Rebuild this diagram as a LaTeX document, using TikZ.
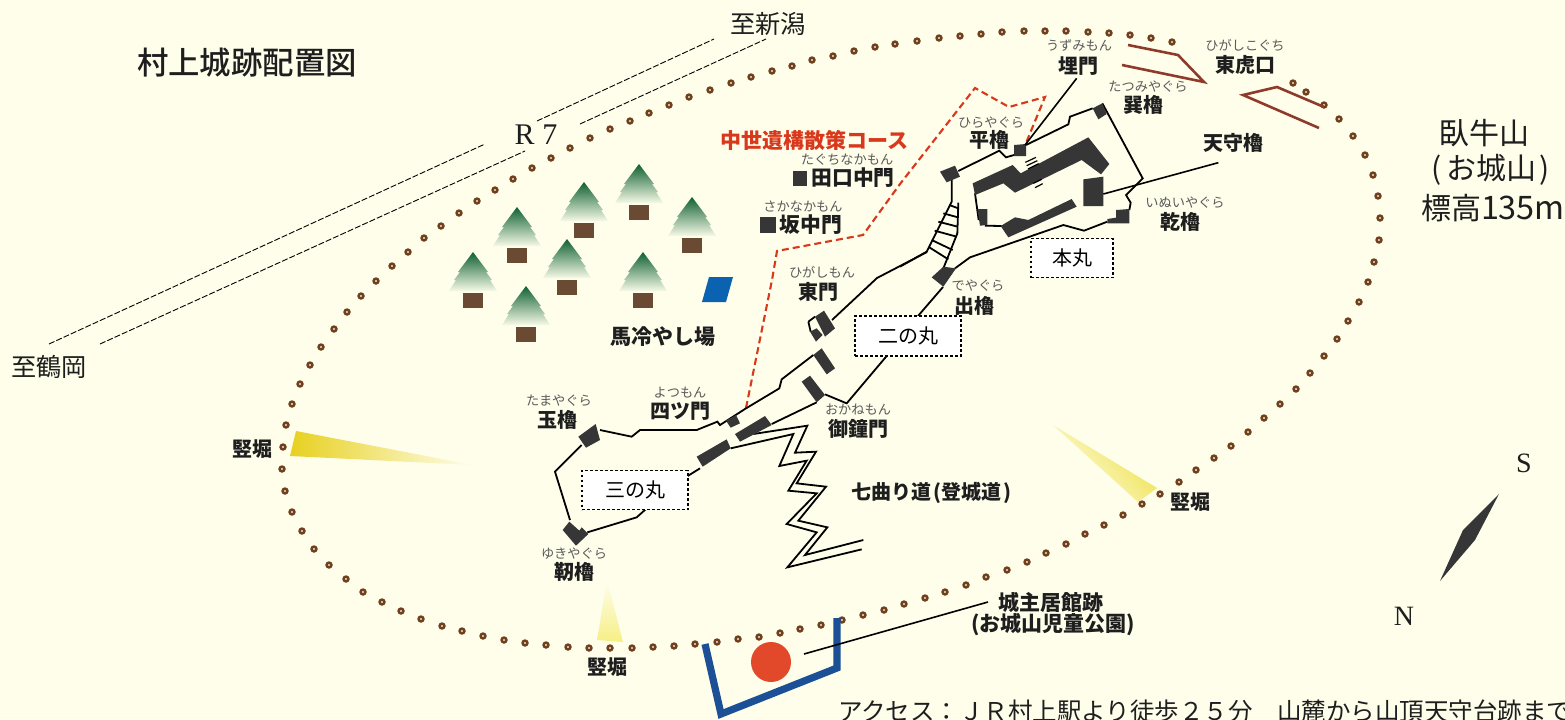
\documentclass[tikz,border=0pt]{standalone}
\usepackage{fontspec}
\setmainfont{Liberation Serif}
\newfontfamily\cjk{Noto Sans CJK JP}
\newfontfamily\cjkm{Noto Sans CJK JP Medium}
\definecolor{bg}{HTML}{FEFEEB}
\definecolor{ink}{HTML}{1E1E1E}
\definecolor{dark}{HTML}{363636}
\definecolor{furi}{HTML}{5A5A5A}
\definecolor{redc}{HTML}{D8381C}
\definecolor{sun}{HTML}{E2492B}
\definecolor{brownl}{HTML}{8E3B2C}
\definecolor{dotc}{HTML}{70401C}
\definecolor{bluea}{HTML}{0B62B0}
\definecolor{blueb}{HTML}{1B4F96}
\definecolor{trunk}{HTML}{6B4A34}
\definecolor{yel}{HTML}{E8D020}
\definecolor{yelb}{HTML}{F6EF85}
\definecolor{yelc}{HTML}{EEDF40}
\definecolor{treet}{HTML}{0F6032}
\definecolor{treem}{HTML}{5F9E78}
\definecolor{treeb}{HTML}{F6FAE6}
\tikzset{
  z1/.style={shift={(900,20)},x=0.166667pt,y=-0.166667pt},
  z2/.style={shift={(500,280)},x=0.166667pt,y=-0.166667pt},
  tx/.style={inner sep=0pt,outer sep=0pt,text=ink},
  namel/.style={tx,font=\cjk\bfseries\fontsize{10}{12}\selectfont},
  furil/.style={tx,text=furi,font=\cjk\fontsize{6.6}{8}\selectfont},
  wall/.style={draw=black,line width=0.9pt,line join=miter},
  tower/.style={fill=dark},
  boxl/.style={draw=black,fill=white,line width=0.8pt,dash pattern=on 1.4pt off 1.1pt},
  course/.style={draw=redc,line width=1.05pt,dash pattern=on 3.5pt off 2pt},
  road/.style={draw=black,line width=0.45pt,dash pattern=on 3pt off 1pt},
  hedge/.style={draw=brownl,line width=1.3pt,line join=miter},
  leader/.style={draw=black,line width=0.8pt},
}
\begin{document}
\begin{tikzpicture}[x=0.5pt,y=-0.5pt]
\fill[bg] (0,0) rectangle (1565,719);
\useasboundingbox (0,0) rectangle (1565,719);
% road
\draw[road] (49,344) -- (485,144);
\draw[road] (537,121) -- (714,39);
\draw[road] (100,344) -- (525,151);
\draw[road] (580,124) -- (766,39);
% moats
\shade[left color=yel,right color=bg] (296,431) -- (290,456) -- (473,465) -- cycle;
\shade[bottom color=yelb,top color=bg] (607,580) -- (597,640) -- (623,642) -- cycle;
\shade[left color=bg,right color=yelc,shading angle=130] (1053,425) -- (1157,488) -- (1138,502) -- cycle;
% dots
\foreach \px/\py in {
1293/83,1306/92,1324/105,1339/119,1353/136,1365/155,1373/175,1378/196,1380/218,1379/240,1374/262,1368/282,1359/302,1348/321,1337/339,1324/356,1310/373,1296/389,1280/404,1264/418,1248/432,1231/446,1214/458,1196/470,1179/482,1160/494,1142/504,1123/515,1104/525,1085/534,1066/544,1046/553,1027/562,1007/570,986/577,966/585,945/592,925/598,904/604,884/610,863/615,842/620,821/625,800/629,780/633,759/637,738/639,717/642,695/644,674/646,653/647,632/648,610/648,589/648,568/647,546/645,525/643,504/640,483/636,462/631,442/626,421/619,401/611,382/602,363/592,346/579,329/565,314/549,302/531,292/512,285/491,282/469,283/447,286/425,292/404,300/384,310/365,321/347,334/329,347/312,361/296,376/281,392/266,408/252,424/238,441/226,459/213,477/201,495/190,513/179,532/168,551/158,570/148,590/138,610/129,630/121,649/113,669/105,689/97,710/90,731/83,751/77,772/71,792/66,812/60,833/56,854/51,875/47,895/44,917/41,939/38,960/36,981/34,1002/32,1024/31,1045/31,1066/31,1088/32,1109/33,1130/35,1151/38,1172/42}
  \draw[draw=dotc,fill=bg,line width=1.25pt] (\px,\py) circle[radius=2.4];
% trees
\foreach \tx/\ty in {639/164,584/182,692/197,517/207,567/239,473/252,643/252,526/286}{
  \begin{scope}[shift={(\tx,\ty)}]
    \shade[top color=treet,middle color=treem,bottom color=treeb]
      (0,0) -- (-15,20) -- (-13,20) -- (-19,28) -- (-17,28) -- (-24,39) -- (24,39) -- (17,28) -- (19,28) -- (13,20) -- (15,20) -- cycle;
    \fill[trunk] (-10,41) rectangle (10,56);
  \end{scope}
}
\fill[bluea] (709,277) -- (733,277) -- (726,302) -- (702,302) -- cycle;
% course
\draw[course] (746,408) -- (772,280) -- (777,251) -- (863,235) -- (900,184) -- (975,88) -- (1009,107) -- (1045,97) -- (1026,143);
% hedges
\draw[hedge] (1128,45) -- (1178,55) -- (1204,82) -- (1122,65);
\draw[hedge] (1319,128) -- (1243,95) -- (1277,87) -- (1324,107);
% castle upper part
\begin{scope}[z1]
  \draw[wall] (175,453) -- (298,392) -- (318,412) -- (342,405);
  \draw[wall] (378,375) -- (505,313) -- (510,290) -- (578,265);
  \draw[wall] (607,250) -- (728,475) -- (678,525) -- (692,548) -- (688,570);
  \draw[wall] (622,605) -- (552,632) -- (490,615) -- (210,712) -- (165,745);
  \draw[wall] (225,520) -- (236,600);
  \draw[wall] (255,617) -- (305,618);
  \draw[wall] (155,480) -- (155,545) -- (80,695) -- (0,740);
  \draw[wall] (175,548) -- (172,640) -- (130,745);
  \draw[wall] (148,555) -- (175,565) (130,580) -- (174,592) (115,605) -- (173,620) (104,632) -- (170,650) (95,660) -- (158,690) (88,682) -- (145,718);
  \fill[tower] (120,455) -- (165,437) -- (180,470) -- (140,487) -- cycle;
  \fill[tower] (342,375) -- (378,372) -- (378,408) -- (342,408) -- cycle;
  \fill[tower] (578,265) -- (607,250) -- (620,282) -- (595,298) -- cycle;
  \fill[tower] (218,490) -- (338,435) -- (362,460) -- (565,352) -- (628,432) -- (603,463) -- (545,420) -- (345,518) -- (310,490) -- (225,525) -- cycle;
  \fill[tower] (550,478) -- (610,470) -- (610,558) -- (550,558) -- cycle;
  \fill[tower] (302,618) -- (345,592) -- (385,600) -- (515,537) -- (530,560) -- (325,652) -- cycle;
  \fill[tower] (232,567) -- (262,567) -- (262,615) -- (240,617) -- cycle;
  \fill[tower] (622,597) -- (648,593) -- (648,570) -- (688,567) -- (688,610) -- (622,610) -- cycle;
  \fill[tower] (95,772) -- (130,740) -- (168,745) -- (130,800) -- cycle;
  \draw[wall,line width=0.6pt] (380,437) -- (412,422) (384,447) -- (416,431) (376,427) -- (408,412);
  \draw[wall,line width=0.6pt] (400,490) -- (425,478) (405,503) -- (428,491);
  \coordinate (maiFoot) at (530,175);
  \coordinate (maiEnd) at (375,375);
  \coordinate (tenFoot) at (955,428);
  \coordinate (tenEnd) at (610,522);
\end{scope}
\draw[wall] (927,252) -- (877,278) -- (832,320);
\draw[wall] (943,287) -- (918,316);
% castle lower part
\begin{scope}[z2]
  \draw[wall] (1160,228) -- (1040,370) -- (975,343);
  \draw[wall] (940,225) -- (845,298) -- (838,325) -- (738,385) -- (660,435) -- (652,425) -- (590,450) -- (420,450) -- (395,470) -- (300,450);
  \draw[wall] (245,495) -- (165,575) -- (210,720);
  \draw[wall] (262,757) -- (410,712) -- (438,687);
  \draw[wall] (563,588) -- (600,565);
  \draw[wall] (815,432) -- (950,367);
  \draw[wall] (925,125) -- (945,110);
  \draw[wall] (925,125) -- (932,155);
  \draw[wall] (760,462) -- (922,437) -- (885,518) -- (948,515) -- (890,610) -- (978,620) -- (895,722) -- (982,742) -- (915,825) -- (1090,780);
  \draw[wall] (692,505) -- (880,462) -- (838,558) -- (920,542) -- (865,632) -- (950,640) -- (860,732) -- (950,757) -- (862,862) -- (1085,808);
  \fill[tower] (945,110) -- (972,92) -- (1005,145) -- (975,170) -- cycle;
  \fill[tower] (930,155) -- (950,145) -- (968,165) -- (948,185) -- cycle;
  \fill[tower] (940,225) -- (965,205) -- (1005,265) -- (980,283) -- cycle;
  \fill[tower] (905,305) -- (930,287) -- (975,345) -- (950,367) -- cycle;
  \fill[tower] (235,470) -- (287,432) -- (300,480) -- (258,503) -- cycle;
  \fill[tower] (188,750) -- (208,725) -- (238,752) -- (245,742) -- (265,762) -- (228,797) -- cycle;
  \fill[tower] (590,530) -- (680,478) -- (692,505) -- (608,560) -- cycle;
  \fill[tower] (705,462) -- (795,408) -- (815,435) -- (720,485) -- cycle;
  \fill[tower] (678,422) -- (708,405) -- (720,430) -- (692,443) -- cycle;
\end{scope}
% small gates
\fill[tower] (793,171) rectangle (807,186);
\fill[tower] (760,217) rectangle (776,233);
% bailey boxes
\node[boxl,minimum width=41pt,minimum height=19.5pt,inner sep=0pt,font=\cjk\fontsize{10}{12}\selectfont] (honmaru) at (1072,258) {本丸};
\node[boxl,minimum width=53pt,minimum height=20pt,inner sep=0pt,font=\cjk\fontsize{10}{12}\selectfont] (ninomaru) at (908,336) {二の丸};
\node[boxl,minimum width=53pt,minimum height=19.5pt,inner sep=0pt,font=\cjk\fontsize{10}{12}\selectfont] (sannomaru) at (635,490) {三の丸};
% residence
\draw[draw=blueb,line width=3.6pt,line join=miter] (705,644) -- (721,714) -- (837,668) -- (837,618);
\fill[sun] (771,662) circle[radius=20];
\coordinate (resEnd) at (804,654);
\coordinate (resFoot) at (988,602);
\draw[leader] (resEnd) -- (resFoot);
% compass
\fill[dark] (1499,494) -- (1463,530) -- (1440,581) -- (1475,540) -- cycle;
% labels
\draw[leader] (maiFoot) -- (maiEnd);
\draw[leader] (tenFoot) -- (tenEnd);
\node[tx,font=\cjkm\fontsize{15.7}{18}\selectfont] (title) at (247,63) {村上城跡配置図};
\node[tx,font=\cjk\fontsize{12.6}{15}\selectfont] (niigata) at (768,24) {至新潟};
\node[tx,font=\cjk\fontsize{12.6}{15}\selectfont] (tsuruoka) at (49,367) {至鶴岡};
\node[tx,font=\fontsize{15}{17}\selectfont] (r7) at (536,135) {R 7};
\node[tx,font=\fontsize{14}{16}\selectfont] (south) at (1524,463) {S};
\node[tx,font=\fontsize{14}{16}\selectfont] (north) at (1404,616) {N};
\node[tx,font=\cjk\fontsize{15}{18}\selectfont] (garyu) at (1484,133) {臥牛山};
\node[tx,font=\cjk\fontsize{15}{18}\selectfont] (oshiro) at (1491,170) {(\kern2pt お城山\kern2pt)};
\node[tx,anchor=west,font=\cjk\fontsize{15}{18}\selectfont] (hyoko) at (1421,208) {標高{\fontsize{16.2}{18}\selectfont 135m}};
\node[tx,text=redc,font=\cjk\bfseries\fontsize{10.5}{12}\selectfont] (course) at (814,140) {中世遺構散策コース};
\node[furil] (f1) at (847,160) {たぐちなかもん};
\node[namel,font=\cjk\bfseries\fontsize{10.4}{12}\selectfont] (taguchi) at (853,178) {田口中門};
\node[furil] (f2) at (803,207) {さかなかもん};
\node[namel,font=\cjk\bfseries\fontsize{10.4}{12}\selectfont] (saka) at (811,225) {坂中門};
\node[furil] (f3) at (822,272) {ひがしもん};
\node[namel] (higashimon) at (818,292) {東門};
\node[namel,font=\cjk\bfseries\fontsize{10.5}{12}\selectfont] (uma) at (663,337) {馬冷やし場};
\node[furil] (f4) at (1079,45) {うずみもん};
\node[namel] (uzumi) at (1078,66) {埋門};
\node[furil] (f5) at (1245,45) {ひがしこぐち};
\node[namel] (koguchi) at (1245,65) {東虎口};
\node[furil] (f6) at (1148,87) {たつみやぐら};
\node[namel] (tatsumi) at (1143,105) {巽櫓};
\node[furil] (f7) at (991,123) {ひらやぐら};
\node[namel] (hira) at (989,140) {平櫓};
\node[namel] (tenshu) at (1233,143) {天守櫓};
\node[furil] (f8) at (1185,203) {いぬいやぐら};
\node[namel] (inui) at (1180,222) {乾櫓};
\node[furil] (f9) at (978,286) {でやぐら};
\node[namel] (de) at (974,306) {出櫓};
\node[furil] (f10) at (559,401) {たまやぐら};
\node[namel] (tama) at (557,420) {玉櫓};
\node[furil] (f11) at (680,393) {よつもん};
\node[namel] (yotsu) at (680,411) {四ツ門};
\node[furil] (f12) at (858,410) {おかねもん};
\node[namel] (okane) at (858,429) {御鐘門};
\node[furil] (f13) at (574,554) {ゆきやぐら};
\node[namel] (yuki) at (574,572) {靭櫓};
\node[namel,anchor=west] (nanamagari) at (851,493) {七曲り道\kern1pt(登城道\kern1pt)};
\node[namel] (tate1) at (252,449) {竪堀};
\node[namel] (tate2) at (1190,502) {竪堀};
\node[namel] (tate3) at (607,667) {竪堀};
\node[namel,font=\cjk\bfseries\fontsize{10.5}{12}\selectfont] (kyokan) at (1051,602) {城主居館跡};
\node[namel,font=\cjk\bfseries\fontsize{10.5}{12}\selectfont] (koen) at (1053,625) {(お城山児童公園)};
\node[tx,anchor=west,font=\cjk\fontsize{12.25}{15}\selectfont] (access) at (838,711) {アクセス：ＪＲ村上駅より徒歩２５分　山麓から山頂天守台跡まで};
\end{tikzpicture}
\end{document}
